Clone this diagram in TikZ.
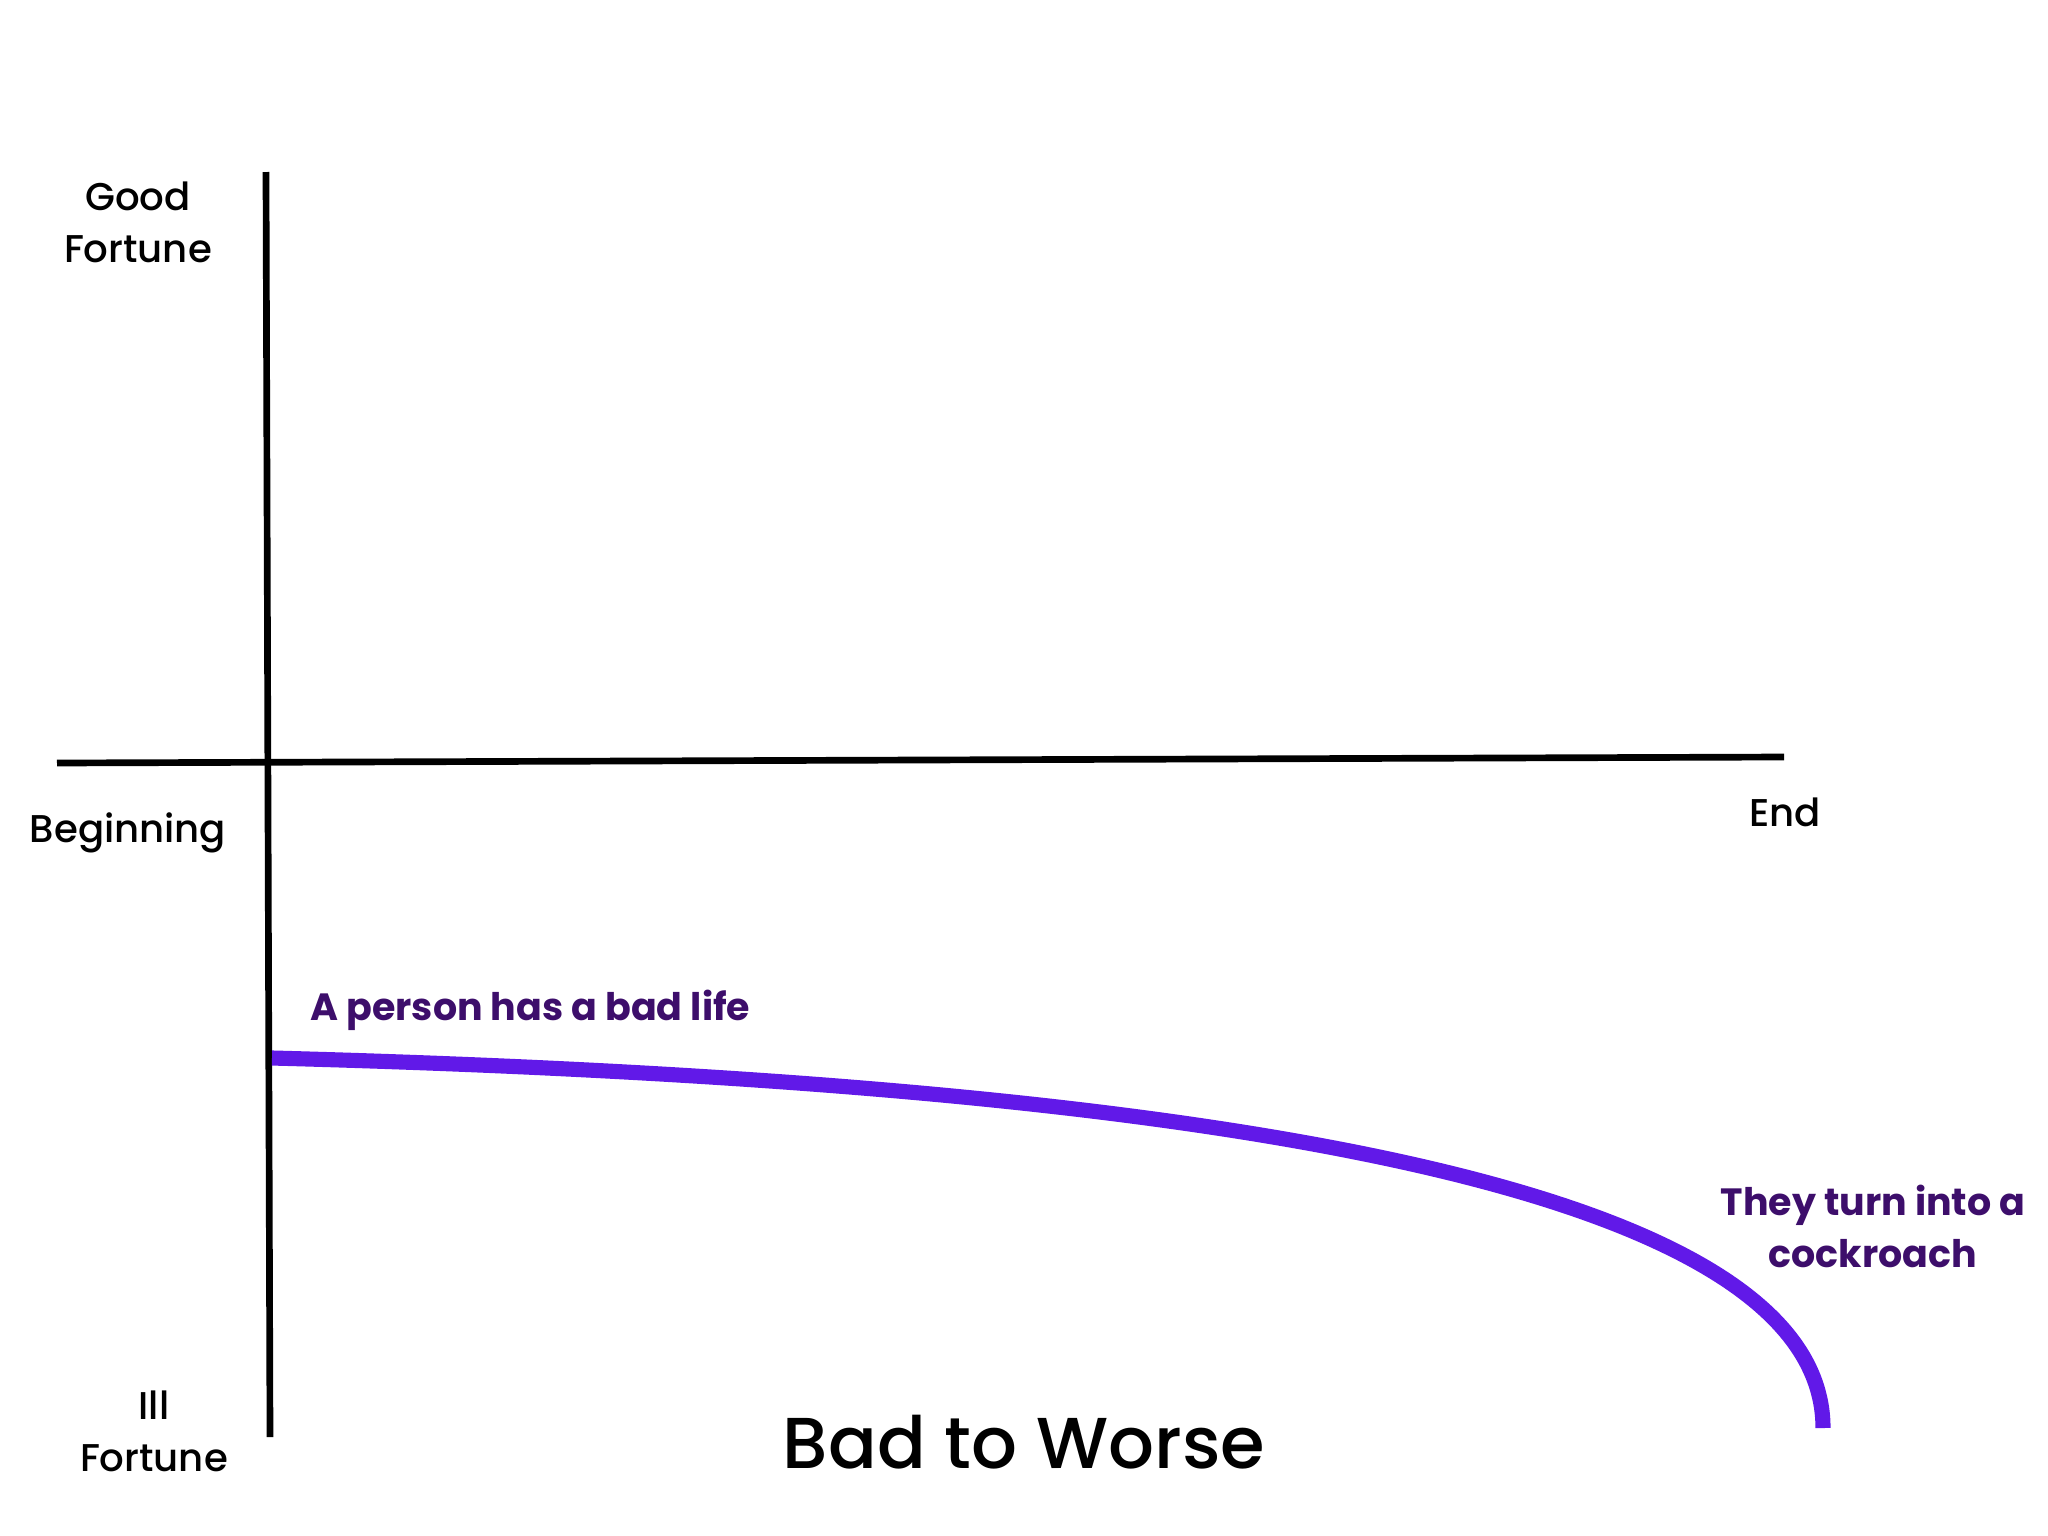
\documentclass[tikz,border=0pt]{standalone}
\usepackage{fontspec}
\setmainfont{Poppins}[UprightFont=* Medium, BoldFont=* Bold]
\usepackage{xcolor}
\usetikzlibrary{positioning}

\definecolor{curvepurple}{HTML}{6119E8}
\definecolor{notepurple}{HTML}{3D0E6B}

\begin{document}
\begin{tikzpicture}[
  x=0.01cm, y=-0.01cm,
  axis/.style={line width=1.9pt, black},
  fate/.style={line width=4.3pt, curvepurple},
  axislabel/.style={align=center, font=\fontsize{11}{14.8}\selectfont},
  note/.style={align=center, font=\bfseries\fontsize{10.8}{14.8}\selectfont, text=notepurple},
  heading/.style={font=\fontsize{20.5}{22}\selectfont}
]
\useasboundingbox (0,0) rectangle (2048,1536);

% Axes
\coordinate (ytop) at (266,172);
\coordinate (ybot) at (270,1437);
\coordinate (xleft) at (57,763);
\coordinate (xright) at (1784,757);
\draw[axis] (ytop) -- (ybot);
\draw[axis] (xleft) -- (xright);

% Axis labels
\node[axislabel] (good) at (138,222) {Good\\Fortune};
\node[axislabel] (ill) at (154,1431) {Ill\\Fortune};
\node[axislabel] (begin) at (128,833) {Beginning};
\node[axislabel] (end) at (1785,812) {End};

% Story line
\coordinate (start) at (272,1058);
\coordinate (finish) at (1823,1428);
\draw[fate] (start) .. controls (1100,1080) and (1823,1165) .. (finish);

\node[note, anchor=west] (bad) at (298,1010) {A person has a bad life};
\node[note] (roach) at (1873,1226) {They turn into a\\cockroach};

% Title
\node[heading] (title) at (1024,1442) {Bad to Worse};

\end{tikzpicture}
\end{document}
